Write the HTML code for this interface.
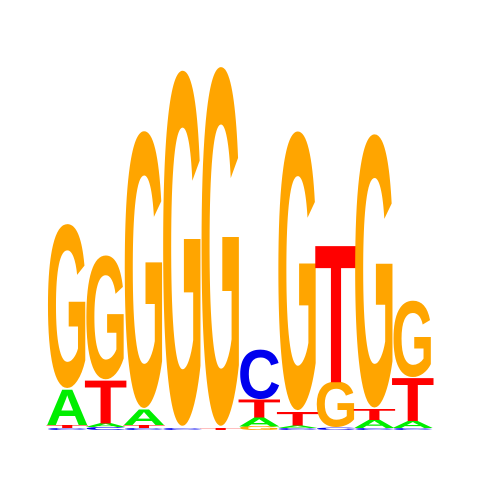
<!DOCTYPE html>
<html><head><meta charset="utf-8"><style>html,body{margin:0;padding:0;background:#fff;width:480px;height:480px;overflow:hidden}svg{display:block}</style></head>
<body>
<svg id="logo" width="480" height="480" viewBox="0 0 480 480" xmlns="http://www.w3.org/2000/svg" overflow="hidden">
<rect width="480" height="480" fill="#fff"/>
<g id="marks"></g>
</svg>
<script>
const positions = [1,2,3,4,5,6,7,8,9,10];
const bitsA = [0.20,0.02,0.085,0.0,0.0,0.05,0.015,0.0,0.045,0.04];
const bitsC = [0.01,0.017,0.01,0.01,0.0,0.27,0.01,0.015,0.01,0.01];
const bitsG = [0.90,0.68,1.52,1.95,1.97,0.02,1.53,0.25,1.50,0.42];
const bitsT = [0.017,0.24,0.017,0.0,0.01,0.10,0.075,0.77,0.06,0.24];
const colors = {A:'#00ee00',C:'#0000ee',G:'#ffa500',T:'#ff0000'};
const x0 = 48, colW = 38.4, baseY = 430, pxPerBit = 180;
function xPos(i){return x0 + i*colW;}
function yLen(b){return b*pxPerBit;}
const g = document.getElementById('marks');
const NS = 'http://www.w3.org/2000/svg';
positions.forEach((p,i)=>{
  const letters = [['A',bitsA[i]],['C',bitsC[i]],['G',bitsG[i]],['T',bitsT[i]]].filter(l=>l[1]>0).sort((a,b)=>a[1]-b[1]);
  let y = baseY;
  letters.forEach(([L,b])=>{
    const h = yLen(b);
    const t = document.createElementNS(NS,'text');
    
    
    t.setAttribute('x', 0);
    t.setAttribute('y', 0);
    t.setAttribute('font-family', 'Liberation Sans, sans-serif');
    t.setAttribute('font-weight', 'bold');
    t.setAttribute('font-size', 100);
    t.setAttribute('textLength', colW*1.12);
    t.setAttribute('lengthAdjust', 'spacingAndGlyphs');
    t.setAttribute('fill', colors[L]);
    const d = (L==='G'||L==='C') ? 1.5 : 0;
    t.setAttribute('transform', 'translate('+(xPos(i)-colW*0.06)+','+(y - d*h/72)+') scale(1,'+(h/70)+')');
    t.textContent = L;
    g.appendChild(t);
    y -= h;
  });
});
</script>
</body></html>
